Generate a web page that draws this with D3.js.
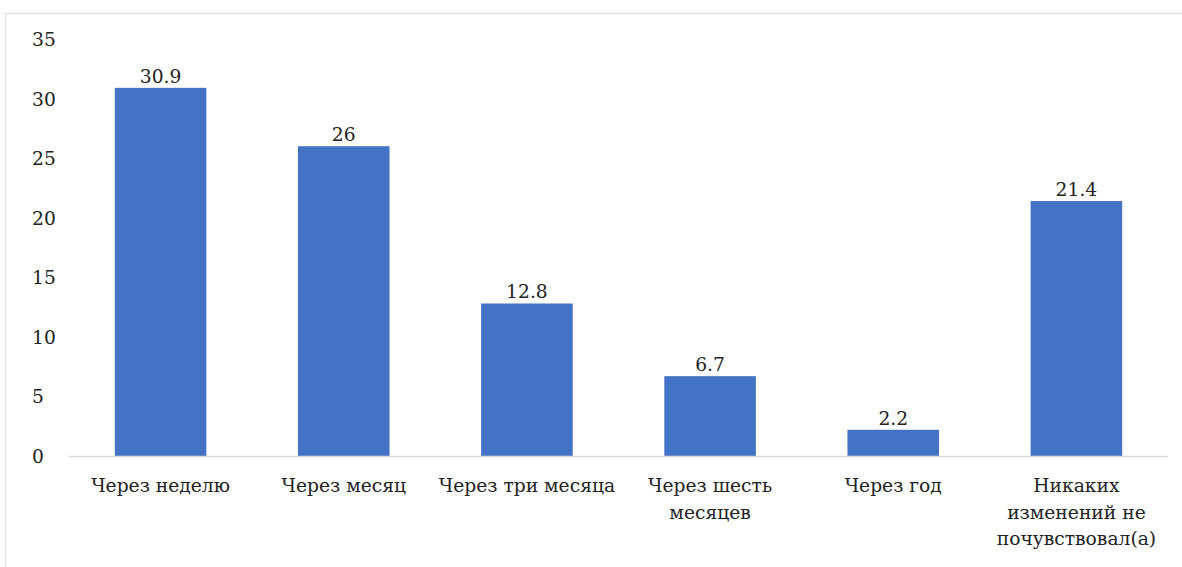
<!DOCTYPE html>
<html>
<head>
<meta charset="utf-8">
<script src="https://cdn.jsdelivr.net/npm/d3@7"></script>
<style>
  html, body { margin: 0; padding: 0; background: #fff; }
  svg { display: block; }
</style>
</head>
<body>
<svg id="chart" width="1182" height="567"></svg>
<script>
// Categories (each label split into its display lines)
const categories = [
  ["Через неделю"],
  ["Через месяц"],
  ["Через три месяца"],
  ["Через шесть", "месяцев"],
  ["Через год"],
  ["Никаких", "изменений не", "почувствовал(а)"]
];
const values = [30.9, 26, 12.8, 6.7, 2.2, 21.4];
const yTicks = [0, 5, 10, 15, 20, 25, 30, 35];

const FONT = "'DejaVu Serif', serif";
const FS = "18.7px";
const INK = "#222";

const svg = d3.select("#chart");
const W = 1182, H = 567;
const margin = { left: 69, right: 14, top: 39, bottom: 111 };
const plotW = W - margin.left - margin.right;
const plotH = H - margin.top - margin.bottom;

// outer frame
svg.append("rect")
  .attr("x", 5.5).attr("y", 13.5)
  .attr("width", 1190).attr("height", 600)
  .attr("fill", "none").attr("stroke", "#e3e3e3").attr("stroke-width", 1.5);

const g = svg.append("g").attr("transform", `translate(${margin.left},${margin.top})`);

const x = d3.scaleBand()
  .domain(d3.range(categories.length))
  .range([0, plotW])
  .paddingInner(0.5).paddingOuter(0.25);

const y = d3.scaleLinear().domain([0, 35]).range([plotH, 0]);

// y axis labels (left-aligned column)
const yAxis = d3.axisLeft(y).tickValues(yTicks).tickSize(0).tickPadding(0);
const ya = g.append("g").attr("transform", "translate(-37,0)").call(yAxis);
ya.attr("font-family", FONT).attr("font-size", FS);
ya.select(".domain").remove();
ya.selectAll("text")
  .attr("text-anchor", "start")
  .attr("dy", "0.35em")
  .attr("fill", INK);

// bars
g.selectAll("rect.bar")
  .data(values)
  .join("rect")
  .attr("class", "bar")
  .attr("x", (d, i) => x(i))
  .attr("width", x.bandwidth())
  .attr("y", d => y(d))
  .attr("height", d => y(0) - y(d))
  .attr("fill", "#4472C4");

// baseline
g.append("line")
  .attr("x1", 0).attr("x2", plotW)
  .attr("y1", y(0) + 0.5).attr("y2", y(0) + 0.5)
  .attr("stroke", "#d9d9d9").attr("stroke-width", 1.5);

// value labels
g.selectAll("text.val")
  .data(values)
  .join("text")
  .attr("class", "val")
  .attr("x", (d, i) => x(i) + x.bandwidth() / 2)
  .attr("y", d => y(d) - 5)
  .attr("text-anchor", "middle")
  .attr("font-family", FONT)
  .attr("font-size", FS)
  .attr("fill", INK)
  .text(d => d);

// category labels
const cat = g.selectAll("text.cat")
  .data(categories)
  .join("text")
  .attr("class", "cat")
  .attr("x", (d, i) => x(i) + x.bandwidth() / 2)
  .attr("y", plotH + 36)
  .attr("text-anchor", "middle")
  .attr("font-family", FONT)
  .attr("font-size", FS)
  .attr("fill", INK);
cat.selectAll("tspan")
  .data(d => d)
  .join("tspan")
  .attr("x", function () { return d3.select(this.parentNode).attr("x"); })
  .attr("dy", (d, i) => i === 0 ? 0 : 26.5)
  .text(d => d);
</script>
</body>
</html>
